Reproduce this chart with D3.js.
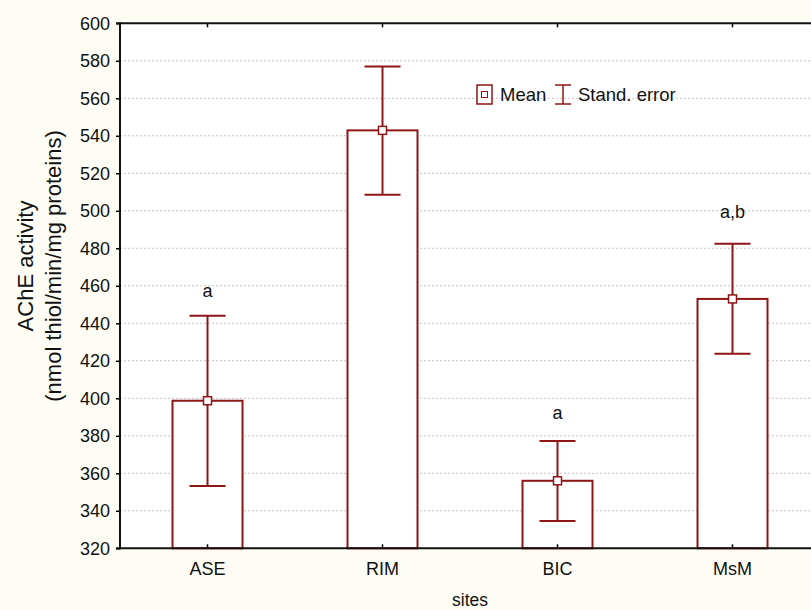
<!DOCTYPE html>
<html><head><meta charset="utf-8">
<script src="https://cdn.jsdelivr.net/npm/d3@7"></script>
<style>
body{margin:0;background:#fdfdf6;}
svg{display:block;}
text{font-family:Arial,"Liberation Sans",sans-serif;fill:#111;}
</style>
</head><body><svg id="c" width="811" height="610"></svg>
<script>
const categories = ["ASE", "RIM", "BIC", "MsM"];
const means = [398.7, 542.9, 356.0, 453.0];
const upper = [444.0, 576.9, 377.2, 482.4];
const lower = [353.2, 508.6, 334.6, 423.8];
const letters = ["a", "", "a", "a,b"];
const letterAt = [454, null, 389, 496];
const yTicks = [320, 340, 360, 380, 400, 420, 440, 460, 480, 500, 520, 540, 560, 580, 600];

const data = categories.map((c, i) => ({c, m: means[i], u: upper[i], l: lower[i], t: letters[i], ty: letterAt[i]}));

const svg = d3.select("#c");
const L = 120, T = 23.3, W = 700, H = 525;
const red = "#8f1616";

const x = d3.scaleBand().domain(categories).range([L, L + W]).paddingInner(0).paddingOuter(0);
const y = d3.scaleLinear().domain([320, 600]).range([T + H, T]);

// plot background
svg.append("rect").attr("x", L).attr("y", T).attr("width", W).attr("height", H).attr("fill", "#ffffff");

// gridlines
svg.append("g").selectAll("line").data(yTicks.filter(v => v > 320 && v < 600)).join("line")
  .attr("x1", L).attr("x2", L + W).attr("y1", d => y(d)).attr("y2", d => y(d))
  .attr("stroke", "#c4c4c4").attr("stroke-width", 1).attr("stroke-dasharray", "2,2");

const bw = 70;
// bars
svg.append("g").selectAll("rect").data(data).join("rect")
  .attr("x", d => x(d.c) + x.bandwidth() / 2 - bw / 2)
  .attr("width", bw)
  .attr("y", d => y(d.m))
  .attr("height", d => y(320) - y(d.m))
  .attr("fill", "#ffffff").attr("stroke", red).attr("stroke-width", 2);

// error bars
const eb = svg.append("g").attr("stroke", red).attr("stroke-width", 2);
const cx = d => x(d.c) + x.bandwidth() / 2;
eb.selectAll(".v").data(data).join("line").attr("class", "v")
  .attr("x1", cx).attr("x2", cx).attr("y1", d => y(d.u)).attr("y2", d => y(d.l));
eb.selectAll(".cu").data(data).join("line").attr("class", "cu")
  .attr("x1", d => cx(d) - 18).attr("x2", d => cx(d) + 18).attr("y1", d => y(d.u)).attr("y2", d => y(d.u));
eb.selectAll(".cl").data(data).join("line").attr("class", "cl")
  .attr("x1", d => cx(d) - 18).attr("x2", d => cx(d) + 18).attr("y1", d => y(d.l)).attr("y2", d => y(d.l));

// mean markers
svg.append("g").selectAll("rect").data(data).join("rect")
  .attr("x", d => cx(d) - 4).attr("y", d => y(d.m) - 4).attr("width", 8).attr("height", 8)
  .attr("fill", "#ffffff").attr("stroke", red).attr("stroke-width", 1.5);

// letters
svg.append("g").selectAll("text").data(data.filter(d => d.t)).join("text")
  .attr("x", cx).attr("y", d => y(d.ty)).attr("text-anchor", "middle")
  .attr("font-size", 18).text(d => d.t);

// axes
const yAxis = d3.axisLeft(y).tickValues(yTicks).tickSize(4).tickPadding(6).tickFormat(d3.format("d"));
const gy = svg.append("g").attr("transform", `translate(${L},0)`).call(yAxis);
gy.select(".domain").remove();
gy.selectAll("line").attr("stroke", "#000").attr("stroke-width", 1.5);
gy.selectAll("text").attr("font-size", 18).attr("fill", "#111");

const xAxis = d3.axisBottom(x).tickSize(-4).tickPadding(14);
const gx = svg.append("g").attr("transform", `translate(0,${T + H})`).call(xAxis);
gx.select(".domain").remove();
gx.selectAll("line").attr("stroke", "#000").attr("stroke-width", 1.5);
gx.selectAll("text").attr("font-size", 18).attr("fill", "#111");

const xTop = d3.axisTop(x).tickSize(-4).tickFormat("");
const gt = svg.append("g").attr("transform", `translate(0,${T})`).call(xTop);
gt.select(".domain").remove();
gt.selectAll("line").attr("stroke", "#000").attr("stroke-width", 1.5);

// frame
svg.append("line").attr("x1", L).attr("x2", L).attr("y1", T - 1).attr("y2", T + H + 1).attr("stroke", "#111").attr("stroke-width", 2);
svg.append("line").attr("x1", L - 4).attr("x2", L + W).attr("y1", T).attr("y2", T).attr("stroke", "#111").attr("stroke-width", 2);
svg.append("line").attr("x1", L - 4).attr("x2", L + W).attr("y1", T + H).attr("y2", T + H).attr("stroke", "#111").attr("stroke-width", 2);

// axis titles
svg.append("text").attr("x", 470).attr("y", 606).attr("text-anchor", "middle").attr("font-size", 17.5).text("sites");
const yt = svg.append("text").attr("transform", "translate(0,266) rotate(-90)").attr("text-anchor", "middle").attr("font-size", 22);
yt.append("tspan").attr("x", 0).attr("y", 33).text("AChE activity");
yt.append("tspan").attr("x", 0).attr("y", 61).text("(nmol thiol/min/mg proteins)");

// legend
const lg = svg.append("g");
lg.append("rect").attr("x", 477).attr("y", 85).attr("width", 15).attr("height", 19).attr("fill", "#fff").attr("stroke", red).attr("stroke-width", 1.5);
lg.append("rect").attr("x", 481.5).attr("y", 91.5).attr("width", 6).attr("height", 6).attr("fill", "#fff").attr("stroke", red).attr("stroke-width", 1);
lg.append("text").attr("x", 500).attr("y", 101).attr("font-size", 18.5).text("Mean");
lg.append("line").attr("x1", 563).attr("x2", 563).attr("y1", 85).attr("y2", 104).attr("stroke", red).attr("stroke-width", 1.5);
lg.append("line").attr("x1", 555).attr("x2", 571).attr("y1", 85).attr("y2", 85).attr("stroke", red).attr("stroke-width", 1.5);
lg.append("line").attr("x1", 555).attr("x2", 571).attr("y1", 104).attr("y2", 104).attr("stroke", red).attr("stroke-width", 1.5);
lg.append("text").attr("x", 578).attr("y", 101).attr("font-size", 18.5).text("Stand. error");
</script></body></html>
